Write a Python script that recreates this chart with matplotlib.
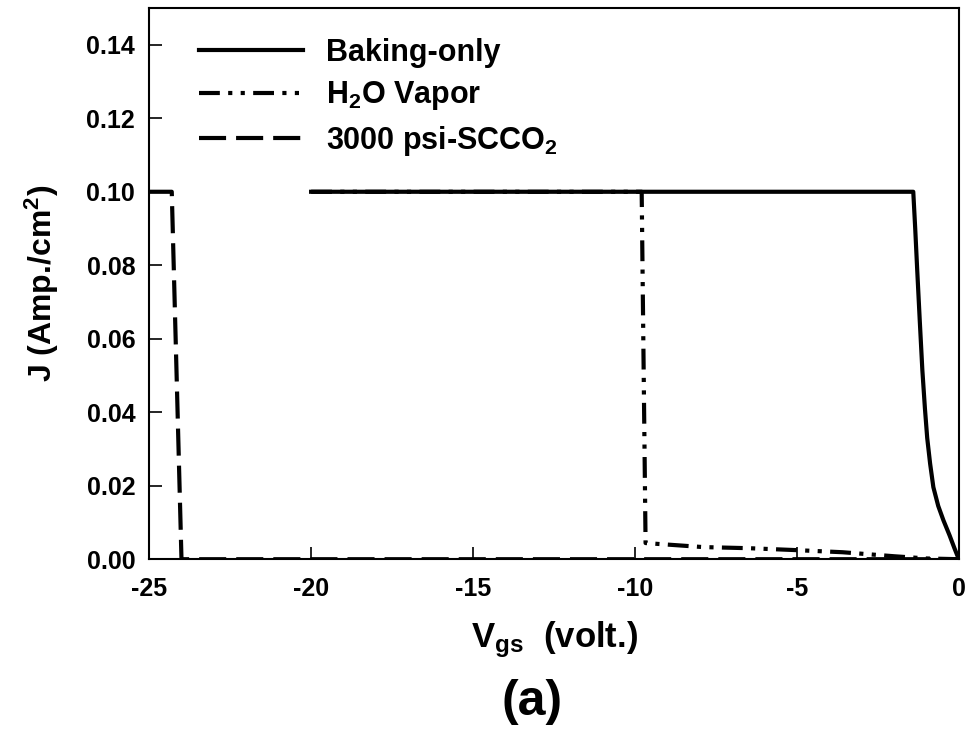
import matplotlib
matplotlib.use("Agg")
import matplotlib.pyplot as plt

plt.rcParams['font.family'] = ['Liberation Sans', 'DejaVu Sans']
plt.rcParams['font.weight'] = 'bold'
plt.rcParams['axes.labelweight'] = 'bold'
plt.rcParams['mathtext.fontset'] = 'custom'
plt.rcParams['mathtext.rm'] = 'Liberation Sans:bold'
plt.rcParams['mathtext.bf'] = 'Liberation Sans:bold'
plt.rcParams['mathtext.default'] = 'bf'

# Baking-only
v_bake = [-20.0, -1.42, -1.36, -1.30, -1.22, -1.14, -1.06, -0.99, -0.90, -0.80,
          -0.65, -0.49, -0.30, -0.15, -0.06, 0.0]
j_bake = [0.100, 0.100, 0.090, 0.079, 0.065, 0.0515, 0.041, 0.033, 0.026, 0.0196,
          0.0145, 0.0106, 0.0065, 0.0030, 0.0010, 0.0]

# H2O vapor
v_h2o = [-20.0, -9.80, -9.68, -7.9, -6.5, -5.1, -3.6, -2.0, -1.0, 0.0]
j_h2o = [0.100, 0.100, 0.0044, 0.0033, 0.0030, 0.0025, 0.0019, 0.0008, 0.0002, 0.0]

# 3000 psi-SCCO2
v_sc = [-25.0, -24.3, -24.0, 0.0]
j_sc = [0.100, 0.100, 0.0, 0.0]

xticks = [-25, -20, -15, -10, -5, 0]
yticks = [0.00, 0.02, 0.04, 0.06, 0.08, 0.10, 0.12, 0.14]

fig = plt.figure(figsize=(9.68, 7.31), dpi=100)
ax = fig.add_axes([0.154, 0.235, 0.837, 0.754])

ax.plot(v_bake, j_bake, color='black', lw=3.0, solid_joinstyle='round',
        label='Baking-only')
ax.plot(v_h2o, j_h2o, color='black', lw=3.0, dashes=(5, 2, 1, 2, 1, 2),
        label=r'H$_\mathbf{2}$O Vapor')
ax.plot(v_sc, j_sc, color='black', lw=3.0, dashes=(6.5, 2.4),
        label=r'3000 psi-SCCO$_\mathbf{2}$')

ax.set_xlim(-25, 0)
ax.set_ylim(0, 0.15)
ax.set_xticks(xticks)
ax.set_xticklabels([str(t) for t in xticks])
ax.set_yticks(yticks)
ax.set_yticklabels(['%.2f' % t for t in yticks])
ax.tick_params(direction='in', length=9, width=1.2, labelsize=18, pad=10,
               top=False, right=False)
ax.tick_params(axis='x', pad=13)
for s in ax.spines.values():
    s.set_linewidth(1.5)

ax.set_xlabel(r'V$_\mathbf{gs}$  (volt.)', fontsize=25, fontweight='bold', labelpad=13)
ax.set_ylabel(r'J (Amp./cm$^\mathbf{2}$)', fontsize=23, fontweight='bold', labelpad=18)

leg = ax.legend(loc='upper left', frameon=False, fontsize=22, handlelength=3.4,
                borderaxespad=0.3, bbox_to_anchor=(0.035, 0.985), labelspacing=0.38,
                handletextpad=0.75)

fig.text(0.55, 0.022, '(a)', fontsize=36, fontweight='bold', ha='center')

fig.savefig('out.png', dpi=100)
